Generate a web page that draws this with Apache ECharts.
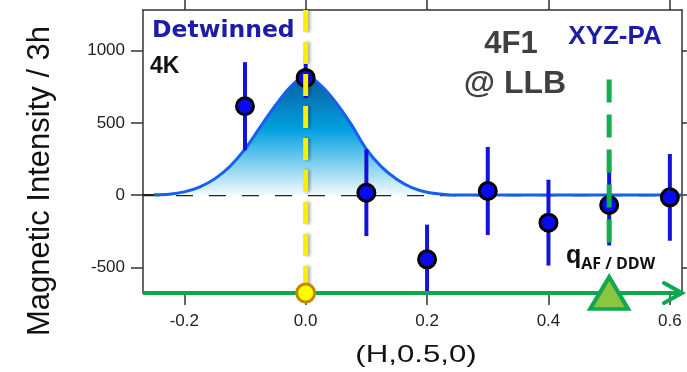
<!DOCTYPE html>
<html>
<head>
<meta charset="utf-8">
<script src="https://cdn.jsdelivr.net/npm/echarts@6/dist/echarts.min.js"></script>
<style>
  html, body { margin: 0; padding: 0; background: #fff; }
  #chart { width: 687px; height: 372px; }
</style>
</head>
<body>
<div id="chart"></div>
<script>
// Axis ranges
const X_MIN = -0.268, X_MAX = 0.62;
const Y_MIN = -678, Y_MAX = 1281;
const xTicks = [-0.2, 0.0, 0.2, 0.4, 0.6];
const yTicks = [-500, 0, 500, 1000];

// Measured points (H, intensity) with symmetric errors
const hValues = [-0.1, 0.0, 0.1, 0.2, 0.3, 0.4, 0.5, 0.6];
const intensity = [615, 811, 16, -445, 28, -191, -69, -16];
const errors = [305, 140, 300, 240, 305, 297, 280, 300];

// Fitted peak profile
const fitH = [-0.25, -0.225, -0.2, -0.175, -0.15, -0.125, -0.1, -0.075, -0.05, -0.025, 0.0,
              0.025, 0.05, 0.075, 0.1, 0.125, 0.15, 0.175, 0.2, 0.225, 0.25, 0.3, 0.62];
const fitI = [2, 6, 22, 55, 112, 198, 318, 470, 620, 750, 825,
              760, 640, 490, 318, 195, 110, 52, 20, 6, 0, 0, 0];

// Reference positions along H
const qNuclear = 0.0;
const qAF = 0.5;
const qAFLineTop = 800;
const qAFLineBottom = -400;

const chart = echarts.init(document.getElementById('chart'));
const FONT = "'Liberation Sans', Arial, sans-serif";

const points = hValues.map((h, i) => [h, intensity[i]]);
const bars = hValues.map((h, i) => [h, intensity[i] - errors[i], intensity[i] + errors[i]]);
const fitData = fitH.map((h, i) => [h, fitI[i]]);

const axisLine = { show: true, onZero: false, lineStyle: { color: '#333', width: 1.5 } };
const tickStyle = { color: '#333', width: 1.5 };

chart.setOption({
  animation: false,
  textStyle: { fontFamily: FONT },
  grid: { left: 143, right: 5, top: 10, bottom: 79 },
  xAxis: [
    {
      type: 'value', position: 'bottom', min: X_MIN, max: X_MAX,
      axisLine, splitLine: { show: false },
      axisTick: { show: true, inside: false, length: 12, lineStyle: tickStyle, customValues: xTicks },
      axisLabel: { customValues: xTicks, fontSize: 17, color: '#222', margin: 20, fontFamily: FONT,
                   formatter: v => v.toFixed(1) }
    },
    {
      type: 'value', position: 'top', min: X_MIN, max: X_MAX,
      axisLine, splitLine: { show: false },
      axisTick: { show: true, inside: false, length: 10, lineStyle: tickStyle, customValues: xTicks },
      axisLabel: { show: false }
    }
  ],
  yAxis: [
    {
      type: 'value', position: 'left', min: Y_MIN, max: Y_MAX,
      axisLine, splitLine: { show: false },
      axisTick: { show: true, inside: false, length: 12, lineStyle: tickStyle, customValues: yTicks },
      axisLabel: { customValues: yTicks, fontSize: 17, color: '#222', margin: 18, fontFamily: FONT,
                   formatter: v => String(v) }
    },
    {
      type: 'value', position: 'right', min: Y_MIN, max: Y_MAX,
      axisLine, splitLine: { show: false },
      axisTick: { show: true, inside: false, length: 5, lineStyle: tickStyle, customValues: yTicks },
      axisLabel: { show: false }
    }
  ],
  series: [
    // zero baseline
    {
      type: 'line', z: 1, symbol: 'none', silent: true,
      data: [[X_MIN, 0], [X_MAX, 0]],
      lineStyle: { color: '#222', width: 2.2, type: [17, 16] }
    },
    // fitted profile with shaded area
    {
      type: 'line', z: 2, symbol: 'none', smooth: 0.3, silent: true,
      data: fitData,
      lineStyle: { color: '#1560f0', width: 3 },
      areaStyle: {
        origin: 0,
        opacity: 1,
        color: new echarts.graphic.LinearGradient(0, 0, 0, 1, [
          { offset: 0, color: '#0a5c9e' },
          { offset: 0.45, color: '#02a0e0' },
          { offset: 1, color: '#f2fafe' }
        ])
      }
    },
    // error bars
    {
      type: 'custom', z: 3, silent: true,
      data: bars,
      renderItem: (params, api) => {
        const lo = api.coord([api.value(0), api.value(1)]);
        const hi = api.coord([api.value(0), api.value(2)]);
        return {
          type: 'line',
          shape: { x1: lo[0], y1: lo[1], x2: hi[0], y2: hi[1] },
          style: { stroke: '#1212d8', lineWidth: 4 }
        };
      }
    },
    // data points
    {
      type: 'scatter', z: 4, silent: true,
      data: points, symbol: 'circle', symbolSize: 17,
      itemStyle: { color: '#0a0af2', borderColor: '#000', borderWidth: 3, opacity: 1 }
    },
    // nuclear position marker line
    {
      type: 'line', z: 5, symbol: 'none', silent: true,
      data: [[qNuclear, Y_MAX], [qNuclear, Y_MIN]],
      lineStyle: { color: '#f8f000', width: 5, type: [22, 10],
                   shadowColor: 'rgba(0,0,0,0.35)', shadowBlur: 3, shadowOffsetX: 2 }
    },
    // AF / DDW position marker line
    {
      type: 'line', z: 5, symbol: 'none', silent: true,
      data: [[qAF, qAFLineTop], [qAF, qAFLineBottom]],
      lineStyle: { color: '#10b050', width: 5, type: [23, 12] }
    },
    // H direction arrow along the bottom
    {
      type: 'custom', z: 6, silent: true, clip: false,
      data: [[X_MIN, Y_MIN, X_MAX]],
      renderItem: (params, api) => {
        const a = api.coord([api.value(0), api.value(1)]);
        const b = api.coord([api.value(2), api.value(1)]);
        return {
          type: 'group',
          children: [
            { type: 'line', shape: { x1: a[0], y1: a[1], x2: b[0] - 2, y2: b[1] },
              style: { stroke: '#0aa84f', lineWidth: 4 } },
            { type: 'polyline', shape: { points: [[b[0] - 18, b[1] - 10], [b[0], b[1]], [b[0] - 18, b[1] + 10]] },
              style: { stroke: '#0aa84f', lineWidth: 4, fill: null, lineCap: 'round', lineJoin: 'miter' } }
          ]
        };
      }
    },
    // nuclear position dot on the arrow
    {
      type: 'scatter', z: 7, silent: true, clip: false,
      data: [[qNuclear, Y_MIN]], symbol: 'circle', symbolSize: 18,
      itemStyle: { color: '#ffff00', borderColor: '#c08a00', borderWidth: 3, opacity: 1 }
    },
    // AF / DDW triangle on the arrow
    {
      type: 'scatter', z: 7, silent: true, clip: false,
      data: [[qAF, Y_MIN]], symbol: 'triangle', symbolSize: [38, 32],
      itemStyle: { color: '#8cc63f', borderColor: '#10a850', borderWidth: 4, opacity: 1 }
    }
  ],
  graphic: [
    { type: 'text', z: 100, x: 40, y: 181, rotation: Math.PI / 2,
      style: { text: 'Magnetic Intensity / 3h', font: "31px " + FONT, fill: '#111', align: 'center', verticalAlign: 'middle' } },
    { type: 'text', z: 100, x: 416, y: 355, scaleX: 1.3,
      style: { text: '(H,0.5,0)', font: "24px " + FONT, fill: '#111', align: 'center', verticalAlign: 'middle' } },
    { type: 'text', z: 100, x: 152, y: 31,
      style: { text: 'Detwinned', font: "bold 23.5px 'DejaVu Sans', sans-serif", fill: '#1c1ca8', align: 'left', verticalAlign: 'middle' } },
    { type: 'text', z: 100, x: 150, y: 67,
      style: { text: '4K', font: "bold 23px " + FONT, fill: '#111', align: 'left', verticalAlign: 'middle' } },
    { type: 'text', z: 100, x: 511, y: 44,
      style: { text: '4F1', font: "bold 31px " + FONT, fill: '#404040', align: 'center', verticalAlign: 'middle' } },
    { type: 'text', z: 100, x: 515, y: 84,
      style: { text: '@ LLB', font: "bold 32px " + FONT, fill: '#404040', align: 'center', verticalAlign: 'middle' } },
    { type: 'text', z: 100, x: 615, y: 37,
      style: { text: 'XYZ-PA', font: "bold 26px " + FONT, fill: '#1c1ca8', align: 'center', verticalAlign: 'middle' } },
    { type: 'text', z: 100, x: 566, y: 256,
      style: {
        text: '{q|q}{s|AF / DDW}',
        align: 'left', verticalAlign: 'middle',
        rich: {
          q: { font: "bold 25px " + FONT, fill: '#111', verticalAlign: 'bottom' },
          s: { font: "bold 16px 'Open Sans', " + FONT, fill: '#111', verticalAlign: 'bottom', padding: [0, 0, -4, 0] }
        }
      } }
  ]
});
</script>
</body>
</html>
